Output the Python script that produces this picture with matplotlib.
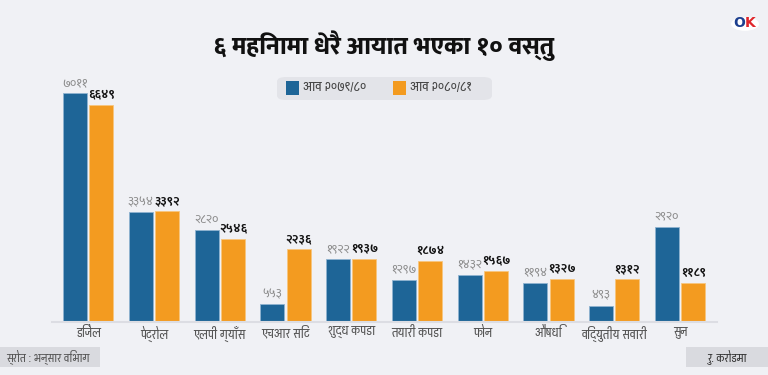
"""Top 10 imported goods in six months, two fiscal years side by side."""
import matplotlib

matplotlib.use("Agg")
import matplotlib.pyplot as plt
import numpy as np
from matplotlib.patches import FancyBboxPatch, Circle, Rectangle

categories = ["डिजेल", "पेट्रोल", "एलपी ग्याँस", "एचआर सिट", "शुद्ध कपडा",
              "तयारी कपडा", "फोन", "औषधि", "विद्युतीय सवारी", "सुन"]
fy_2079_80 = [7011, 3354, 2820, 553, 1922, 1297, 1432, 1194, 493, 2920]
fy_2080_81 = [6649, 3392, 2546, 2236, 1937, 1874, 1567, 1327, 1312, 1189]
series_names = ["आव २०७९/८०", "आव २०८०/८१"]

title = "६ महिनामा धेरै आयात भएका १० वस्तु"
source = "स्रोत : भन्सार विभाग"
unit = "रु. करोडमा"

BG = "#f0f1f5"
BLUE = "#1e6597"
ORANGE = "#f39b20"
LABEL_FONT = ["Pragati Narrow", "Noto Sans"]
VALUE_FONT = ["Mukta", "Noto Sans"]
TITLE_FONT = ["Mukta", "Noto Sans"]


def _dev(n):
    """Render an integer with Devanagari digits."""
    return str(n).translate(str.maketrans("0123456789", "०१२३४५६७८९"))


fig = plt.figure(figsize=(7.68, 3.75), dpi=100, facecolor=BG)
ax = fig.add_axes([52 / 768, 53 / 375, 665 / 768, 252 / 375])
ax.set_facecolor(BG)

x = np.arange(len(categories))
w = 0.365
off = 0.2
b1 = ax.bar(x - off, fy_2079_80, w, color=BLUE, edgecolor="#8fb3d0", linewidth=0.6)
b2 = ax.bar(x + off, fy_2080_81, w, color=ORANGE, edgecolor="#f7c67e", linewidth=0.6)

for rect, v in zip(b1, fy_2079_80):
    ax.annotate(_dev(v), (rect.get_x() + rect.get_width() / 2, v),
                xytext=(0, 3), textcoords="offset points", ha="center", va="bottom",
                fontsize=9, color="#8a8a8a", family=VALUE_FONT)
for rect, v in zip(b2, fy_2080_81):
    ax.annotate(_dev(v), (rect.get_x() + rect.get_width() / 2, v),
                xytext=(0, 3), textcoords="offset points", ha="center", va="bottom",
                fontsize=9, color="#111111", fontweight="bold", family=VALUE_FONT)

ax.set_xlim(-0.552, 9.563)
ax.set_ylim(0, 7716)
ax.set_yticks([])
ax.set_xticks(x)
ax.set_xticklabels(categories, fontsize=10, color="#555555", family=LABEL_FONT)
ax.tick_params(axis="x", length=0, pad=3)
for side in ("top", "right", "left"):
    ax.spines[side].set_visible(False)
ax.spines["bottom"].set_color("#dcdde3")
ax.spines["bottom"].set_linewidth(1.5)

fig.text(0.5, 1 - 46 / 375, title, ha="center", va="center", fontsize=18,
         fontweight="heavy", color="#111111", family=TITLE_FONT)

# legend box
fig.patches.append(FancyBboxPatch((277 / 768, 1 - 100 / 375), 215 / 768, 23 / 375,
                                  boxstyle="round,pad=0,rounding_size=0.012",
                                  transform=fig.transFigure, facecolor="#e3e4e9",
                                  edgecolor="none"))
for sx, color, name in [(286, BLUE, series_names[0]), (393, ORANGE, series_names[1])]:
    fig.patches.append(Rectangle((sx / 768, 1 - 95 / 375), 13 / 768, 14 / 375,
                                 transform=fig.transFigure, facecolor=color,
                                 edgecolor="none"))
    fig.text((sx + 17) / 768, 1 - 88 / 375, name, ha="left", va="center",
             fontsize=10.5, color="#444444", family=LABEL_FONT)

# footer boxes
fig.patches.append(Rectangle((0, 8 / 375), 100 / 768, 20 / 375, transform=fig.transFigure,
                             facecolor="#d9dadf", edgecolor="none"))
fig.text(6 / 768, 18 / 375, source, ha="left", va="center", fontsize=9,
         color="#555555", family=LABEL_FONT)
fig.patches.append(Rectangle((686 / 768, 8 / 375), 82 / 768, 20 / 375,
                             transform=fig.transFigure, facecolor="#d9dadf",
                             edgecolor="none"))
fig.text(727 / 768, 18 / 375, unit, ha="center", va="center", fontsize=9,
         color="#333333", family=LABEL_FONT)

# logo
fig.patches.append(Circle((745 / 768, 1 - 24 / 375), 14 / 768, transform=fig.transFigure,
                          facecolor="white", edgecolor="none"))
fig.text(739 / 768, 1 - 23 / 375, "O", ha="center", va="center", fontsize=10,
         fontweight="bold", color="#1d3f8f")
fig.text(750 / 768, 1 - 23 / 375, "K", ha="center", va="center", fontsize=10,
         fontweight="bold", color="#e0262b")

fig.savefig("out.png", dpi=100, facecolor=BG)
